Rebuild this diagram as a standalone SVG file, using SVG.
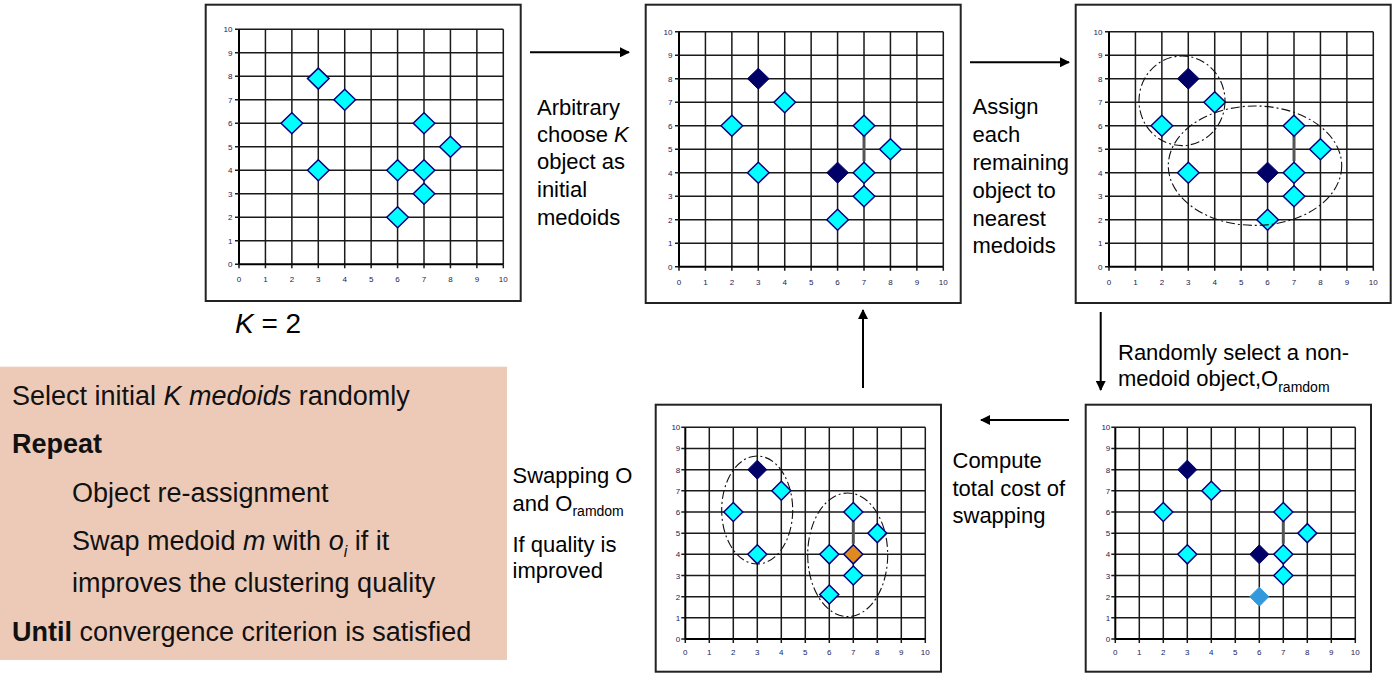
<svg xmlns="http://www.w3.org/2000/svg" xmlns:xlink="http://www.w3.org/1999/xlink" width="1398" height="676" viewBox="0 0 1398 676">
<style>
.frame{fill:#fff;stroke:#222;stroke-width:2}
.grid{fill:none;stroke:#1a1a1a;stroke-width:1.5}
.axis{fill:none;stroke:#000;stroke-width:2}
.tick{font-family:"Liberation Sans",Arial,sans-serif;font-size:8px;fill:#1a1a55}
.tx{text-anchor:middle}
.ty{text-anchor:end}
.cy{fill:#00ffff;stroke:#000080;stroke-width:1.5}
.dk{fill:#000066;stroke:#000066;stroke-width:1}
.lb{fill:#3399dd;stroke:#3399dd;stroke-width:1}
.or{fill:#e08a1e;stroke:#000080;stroke-width:1.5}
.link{stroke:#555;stroke-width:3}
.ell{fill:none;stroke:#111;stroke-width:1.1;stroke-dasharray:9,3,2,3}
.lbl{font-family:"Liberation Sans",Arial,sans-serif;font-size:22px;fill:#000}
.box{font-family:"Liberation Sans",Arial,sans-serif;font-size:27px;fill:#111}
.sub{font-size:14px}
.conn{stroke:#000;stroke-width:2;fill:none}
</style>
<defs>
<marker id="ah" viewBox="0 0 10 10" refX="9" refY="5" markerWidth="5" markerHeight="5" orient="auto" markerUnits="strokeWidth">
<path d="M0,0L10,5L0,10Z" fill="#000"/>
</marker>
<path id="dT" d="M0,-10.5L10.8,0L0,10.5L-10.8,0Z"/>
<path id="dB" d="M0,-9.5L9.5,0L0,9.5L-9.5,0Z"/>
<g id="gT">
<path class="grid" d="M26.43,0V-235M52.86,0V-235M79.29,0V-235M105.72,0V-235M132.15,0V-235M158.58,0V-235M185.01,0V-235M211.44,0V-235M237.87,0V-235M264.3,0V-235M0,-23.5H264.3M0,-47H264.3M0,-70.5H264.3M0,-94H264.3M0,-117.5H264.3M0,-141H264.3M0,-164.5H264.3M0,-188H264.3M0,-211.5H264.3M0,-235H264.3"/>
<path class="axis" d="M0,-235V0H264.3"/>
<path class="grid" d="M0,0v4M26.43,0v4M52.86,0v4M79.29,0v4M105.72,0v4M132.15,0v4M158.58,0v4M185.01,0v4M211.44,0v4M237.87,0v4M264.3,0v4M0,0h-4M0,-23.5h-4M0,-47h-4M0,-70.5h-4M0,-94h-4M0,-117.5h-4M0,-141h-4M0,-164.5h-4M0,-188h-4M0,-211.5h-4M0,-235h-4"/>
<g class="tick tx">
<text x="0" y="18">0</text><text x="26.43" y="18">1</text><text x="52.86" y="18">2</text><text x="79.29" y="18">3</text><text x="105.72" y="18">4</text><text x="132.15" y="18">5</text><text x="158.58" y="18">6</text><text x="185.01" y="18">7</text><text x="211.44" y="18">8</text><text x="237.87" y="18">9</text><text x="264.3" y="18">10</text>
</g>
<g class="tick ty">
<text x="-6.5" y="3">0</text><text x="-6.5" y="-20.5">1</text><text x="-6.5" y="-44">2</text><text x="-6.5" y="-67.5">3</text><text x="-6.5" y="-91">4</text><text x="-6.5" y="-114.5">5</text><text x="-6.5" y="-138">6</text><text x="-6.5" y="-161.5">7</text><text x="-6.5" y="-185">8</text><text x="-6.5" y="-208.5">9</text><text x="-6.5" y="-232">10</text>
</g>
</g>
<g id="gB">
<path class="grid" d="M24,0V-211.7M48,0V-211.7M72,0V-211.7M96,0V-211.7M120,0V-211.7M144,0V-211.7M168,0V-211.7M192,0V-211.7M216,0V-211.7M240,0V-211.7M0,-21.17H240M0,-42.34H240M0,-63.51H240M0,-84.68H240M0,-105.85H240M0,-127.02H240M0,-148.19H240M0,-169.36H240M0,-190.53H240M0,-211.7H240"/>
<path class="axis" d="M0,-211.7V0H240"/>
<path class="grid" d="M0,0v4M24,0v4M48,0v4M72,0v4M96,0v4M120,0v4M144,0v4M168,0v4M192,0v4M216,0v4M240,0v4M0,0h-4M0,-21.17h-4M0,-42.34h-4M0,-63.51h-4M0,-84.68h-4M0,-105.85h-4M0,-127.02h-4M0,-148.19h-4M0,-169.36h-4M0,-190.53h-4M0,-211.7h-4"/>
<g class="tick tx">
<text x="0" y="16">0</text><text x="24" y="16">1</text><text x="48" y="16">2</text><text x="72" y="16">3</text><text x="96" y="16">4</text><text x="120" y="16">5</text><text x="144" y="16">6</text><text x="168" y="16">7</text><text x="192" y="16">8</text><text x="216" y="16">9</text><text x="240" y="16">10</text>
</g>
<g class="tick ty">
<text x="-5" y="3">0</text><text x="-5" y="-18.17">1</text><text x="-5" y="-39.34">2</text><text x="-5" y="-60.51">3</text><text x="-5" y="-81.68">4</text><text x="-5" y="-102.85">5</text><text x="-5" y="-124.02">6</text><text x="-5" y="-145.19">7</text><text x="-5" y="-166.36">8</text><text x="-5" y="-187.53">9</text><text x="-5" y="-208.7">10</text>
</g>
</g>
</defs>
<rect width="1398" height="676" fill="#fff"/>

<!-- Plot 1: initial data -->
<g id="plot1">
<rect class="frame" x="205.7" y="4.7" width="315" height="296.3"/>
<g transform="translate(239,264.3)">
<use xlink:href="#gT"/>
<use xlink:href="#dT" class="cy" x="52.86" y="-141"/>
<use xlink:href="#dT" class="cy" x="79.29" y="-185.7"/>
<use xlink:href="#dT" class="cy" x="105.72" y="-164.5"/>
<use xlink:href="#dT" class="cy" x="79.29" y="-94"/>
<use xlink:href="#dT" class="cy" x="185.01" y="-141"/>
<use xlink:href="#dT" class="cy" x="211.44" y="-117.5"/>
<use xlink:href="#dT" class="cy" x="158.58" y="-94"/>
<use xlink:href="#dT" class="cy" x="185.01" y="-94"/>
<use xlink:href="#dT" class="cy" x="185.01" y="-70.5"/>
<use xlink:href="#dT" class="cy" x="158.58" y="-47"/>
</g>
</g>

<!-- Plot 2: initial medoids -->
<g id="plot2">
<rect class="frame" x="645.7" y="4.7" width="315" height="298.3"/>
<g transform="translate(679,266.7)">
<use xlink:href="#gT"/>
<line class="link" x1="185.01" y1="-134" x2="185.01" y2="-105.7"/>
<use xlink:href="#dT" class="dk" x="79.29" y="-188"/>
<use xlink:href="#dT" class="dk" x="158.58" y="-94"/>
<use xlink:href="#dT" class="cy" x="52.86" y="-141"/>
<use xlink:href="#dT" class="cy" x="105.72" y="-164.5"/>
<use xlink:href="#dT" class="cy" x="79.29" y="-94"/>
<use xlink:href="#dT" class="cy" x="185.01" y="-141"/>
<use xlink:href="#dT" class="cy" x="211.44" y="-117.5"/>
<use xlink:href="#dT" class="cy" x="185.01" y="-94"/>
<use xlink:href="#dT" class="cy" x="185.01" y="-70.5"/>
<use xlink:href="#dT" class="cy" x="158.58" y="-47"/>
</g>
</g>

<!-- Plot 3: assigned clusters -->
<g id="plot3">
<rect class="frame" x="1075.7" y="4.7" width="315" height="298.3"/>
<g transform="translate(1109,266.7)">
<use xlink:href="#gT"/>
<line class="link" x1="185.01" y1="-134" x2="185.01" y2="-105.7"/>
<use xlink:href="#dT" class="dk" x="79.29" y="-188"/>
<use xlink:href="#dT" class="dk" x="158.58" y="-94"/>
<use xlink:href="#dT" class="cy" x="52.86" y="-141"/>
<use xlink:href="#dT" class="cy" x="105.72" y="-164.5"/>
<use xlink:href="#dT" class="cy" x="79.29" y="-94"/>
<use xlink:href="#dT" class="cy" x="185.01" y="-141"/>
<use xlink:href="#dT" class="cy" x="211.44" y="-117.5"/>
<use xlink:href="#dT" class="cy" x="185.01" y="-94"/>
<use xlink:href="#dT" class="cy" x="185.01" y="-70.5"/>
<use xlink:href="#dT" class="cy" x="158.58" y="-47"/>
<ellipse class="ell" cx="73" cy="-165.9" rx="43" ry="44.8"/>
<ellipse class="ell" cx="146" cy="-101" rx="86.7" ry="59.7"/>
</g>
</g>

<!-- Plot 4: random non-medoid -->
<g id="plot4">
<rect class="frame" x="1085.7" y="404.7" width="285.3" height="267"/>
<g transform="translate(1115.3,639)">
<use xlink:href="#gB"/>
<line class="link" x1="168" y1="-118.6" x2="168" y2="-95.3"/>
<use xlink:href="#dB" class="dk" x="72" y="-169.36"/>
<use xlink:href="#dB" class="dk" x="144" y="-84.68"/>
<use xlink:href="#dB" class="lb" x="144" y="-42.34"/>
<use xlink:href="#dB" class="cy" x="48" y="-127.02"/>
<use xlink:href="#dB" class="cy" x="96" y="-148.19"/>
<use xlink:href="#dB" class="cy" x="72" y="-84.68"/>
<use xlink:href="#dB" class="cy" x="168" y="-127.02"/>
<use xlink:href="#dB" class="cy" x="192" y="-105.85"/>
<use xlink:href="#dB" class="cy" x="168" y="-84.68"/>
<use xlink:href="#dB" class="cy" x="168" y="-63.51"/>
</g>
</g>

<!-- Plot 5: after swapping -->
<g id="plot5">
<rect class="frame" x="655.7" y="404.7" width="285.3" height="267"/>
<g transform="translate(685.3,639)">
<use xlink:href="#gB"/>
<line class="link" x1="168" y1="-118.6" x2="168" y2="-95.3"/>
<use xlink:href="#dB" class="dk" x="72" y="-169.36"/>
<use xlink:href="#dB" class="or" x="168" y="-84.68"/>
<use xlink:href="#dB" class="cy" x="48" y="-127.02"/>
<use xlink:href="#dB" class="cy" x="96" y="-148.19"/>
<use xlink:href="#dB" class="cy" x="72" y="-84.68"/>
<use xlink:href="#dB" class="cy" x="168" y="-127.02"/>
<use xlink:href="#dB" class="cy" x="192" y="-105.85"/>
<use xlink:href="#dB" class="cy" x="144" y="-84.68"/>
<use xlink:href="#dB" class="cy" x="168" y="-63.51"/>
<use xlink:href="#dB" class="cy" x="144" y="-44.5"/>
<ellipse class="ell" cx="71.9" cy="-129" rx="35.5" ry="54"/>
<ellipse class="ell" cx="162.4" cy="-84.2" rx="40" ry="61.8"/>
</g>
</g>

<!-- Connectors -->
<g id="connectors">
<line class="conn" x1="530" y1="52.3" x2="629" y2="52.3" marker-end="url(#ah)"/>
<line class="conn" x1="970" y1="62.3" x2="1069" y2="62.3" marker-end="url(#ah)"/>
<line class="conn" x1="1100.7" y1="312" x2="1100.7" y2="390" marker-end="url(#ah)"/>
<line class="conn" x1="1069" y1="420" x2="981" y2="420" marker-end="url(#ah)"/>
<line class="conn" x1="863" y1="388" x2="863" y2="310" marker-end="url(#ah)"/>
</g>

<!-- Labels -->
<g id="label-k">
<text class="lbl" x="235" y="333" style="font-size:28px"><tspan font-style="italic">K</tspan> = 2</text>
</g>
<g id="label-arbitrary">
<text class="lbl" x="537" y="115">Arbitrary</text>
<text class="lbl" x="537" y="142">choose <tspan font-style="italic">K</tspan></text>
<text class="lbl" x="537" y="169">object as</text>
<text class="lbl" x="537" y="197">initial</text>
<text class="lbl" x="537" y="225">medoids</text>
</g>
<g id="label-assign">
<text class="lbl" x="972.5" y="114">Assign</text>
<text class="lbl" x="972.5" y="142">each</text>
<text class="lbl" x="972.5" y="170">remaining</text>
<text class="lbl" x="972.5" y="198">object to</text>
<text class="lbl" x="972.5" y="226">nearest</text>
<text class="lbl" x="972.5" y="253">medoids</text>
</g>
<g id="label-random">
<text class="lbl" x="1118" y="360">Randomly select a non-</text>
<text class="lbl" x="1118" y="386">medoid object,O<tspan class="sub" dy="6">ramdom</tspan></text>
</g>
<g id="label-compute">
<text class="lbl" x="952.5" y="468">Compute</text>
<text class="lbl" x="952.5" y="496">total cost of</text>
<text class="lbl" x="952.5" y="523">swapping</text>
</g>
<g id="label-swap">
<text class="lbl" x="512.5" y="483">Swapping O</text>
<text class="lbl" x="512.5" y="511">and O<tspan class="sub" dy="5">ramdom</tspan></text>
<text class="lbl" x="512.5" y="552">If quality is</text>
<text class="lbl" x="512.5" y="578">improved</text>
</g>

<!-- Algorithm box -->
<g id="algorithm">
<rect x="0" y="366.7" width="507" height="293.3" fill="#edcab8"/>
<text class="box" x="12" y="405">Select initial <tspan font-style="italic">K medoids</tspan> randomly</text>
<text class="box" x="12" y="453" font-weight="bold">Repeat</text>
<text class="box" x="72" y="502">Object re-assignment</text>
<text class="box" x="72" y="550">Swap medoid <tspan font-style="italic">m</tspan> with <tspan font-style="italic">o</tspan><tspan font-style="italic" font-size="16" dy="7">i</tspan><tspan dy="-7"> if it</tspan></text>
<text class="box" x="72" y="592">improves the clustering quality</text>
<text class="box" x="12" y="641"><tspan font-weight="bold">Until</tspan> convergence criterion is satisfied</text>
</g>
</svg>
